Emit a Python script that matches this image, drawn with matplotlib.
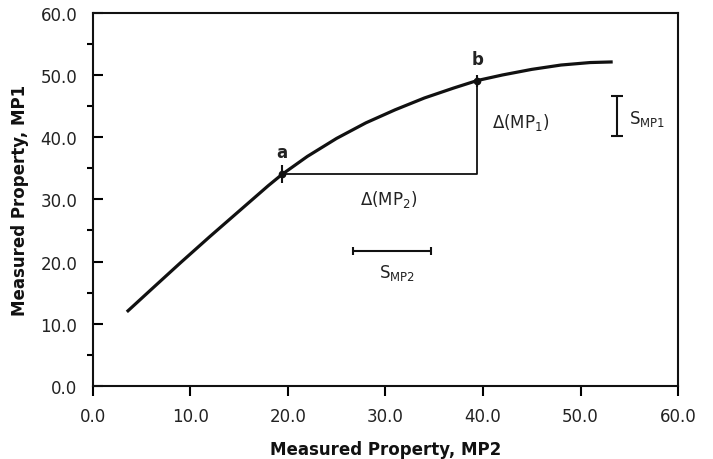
import matplotlib
matplotlib.use('Agg')
import matplotlib.pyplot as plt
from matplotlib.ticker import MultipleLocator, FormatStrFormatter

# Curve (MP2, MP1)
curve_x = [3.5, 6.0, 9.0, 12.0, 15.0, 18.0, 19.4, 22.0, 25.0, 28.0, 31.0, 34.0,
           37.0, 39.4, 42.0, 45.0, 48.0, 51.0, 53.3]
curve_y = [11.9, 15.5, 19.8, 24.0, 28.1, 32.2, 34.0, 36.9, 39.8, 42.3, 44.4, 46.3,
           47.9, 49.1, 50.0, 50.9, 51.6, 52.0, 52.1]

# Marked points
pt_names = ['a', 'b']
pt_x = [19.4, 39.4]
pt_y = [34.0, 49.1]

# Uncertainty bars: centre and half-width
smp1_x, smp1_y, smp1_err = 53.7, 43.4, 3.2
smp2_x, smp2_y, smp2_err = 30.7, 21.7, 4.0

fig = plt.figure(figsize=(7.13, 4.6), dpi=100)
ax = fig.add_axes([0.130, 0.159, 0.821, 0.811])

ink = '#111111'
txt = '#222222'

ax.plot(curve_x, curve_y, color=ink, lw=2.3, solid_capstyle='butt',
        solid_joinstyle='round', zorder=3)

# Triangle between a and b
ax.plot([pt_x[0], pt_x[1], pt_x[1]], [pt_y[0], pt_y[0], pt_y[1]], color=ink, lw=1.3, zorder=2)

# point markers
ax.plot(pt_x[0], pt_y[0], marker='|', ms=13, mew=1.5, color=ink, zorder=4)
ax.plot(pt_x, pt_y, 'o', ms=4.5, color=ink, zorder=4)
ax.plot(pt_x[1], pt_y[1], marker='|', ms=9, mew=1.5, color=ink, zorder=4)

ax.text(pt_x[0], pt_y[0] + 3.6, pt_names[0], ha='center', va='center', fontsize=12,
        fontweight='bold', color=txt)
ax.text(pt_x[1], pt_y[1] + 3.5, pt_names[1], ha='center', va='center', fontsize=12,
        fontweight='bold', color=txt)

ax.text(40.9, 42.5, r'$\Delta$(MP$_1$)', ha='left', va='center', fontsize=12, color=txt)
ax.text(30.3, 30.1, r'$\Delta$(MP$_2$)', ha='center', va='center', fontsize=12, color=txt)

ax.errorbar(smp1_x, smp1_y, yerr=smp1_err, color=ink, lw=1.5, capsize=4, capthick=1.5)
ax.errorbar(smp2_x, smp2_y, xerr=smp2_err, color=ink, lw=1.5, capsize=3, capthick=1.5)
ax.text(55.0, 43.1, r'S$_{\mathregular{MP1}}$', ha='left', va='center', fontsize=12, color=txt)
ax.text(31.2, 18.3, r'S$_{\mathregular{MP2}}$', ha='center', va='center', fontsize=12, color=txt)

ax.set_xlim(0, 60)
ax.set_ylim(0, 60)
ax.xaxis.set_major_locator(MultipleLocator(10))
ax.yaxis.set_major_locator(MultipleLocator(10))
ax.yaxis.set_minor_locator(MultipleLocator(5))
ax.xaxis.set_major_formatter(FormatStrFormatter('%.1f'))
ax.yaxis.set_major_formatter(FormatStrFormatter('%.1f'))

ax.tick_params(axis='x', which='major', direction='out', length=7, width=1.5,
               labelsize=12, labelcolor=txt, pad=8)
ax.tick_params(axis='y', which='major', direction='in', length=7, width=1.5,
               labelsize=12, labelcolor=txt, pad=11)
ax.tick_params(axis='y', which='minor', direction='out', length=4, width=1.5)
for s in ax.spines.values():
    s.set_linewidth(1.5)
    s.set_color(ink)

ax.set_xlabel('Measured Property, MP2', fontsize=12, fontweight='bold', color=ink, labelpad=11)
ax.set_ylabel('Measured Property, MP1', fontsize=12, fontweight='bold', color=ink, labelpad=8)

fig.savefig('out.png', dpi=100)
